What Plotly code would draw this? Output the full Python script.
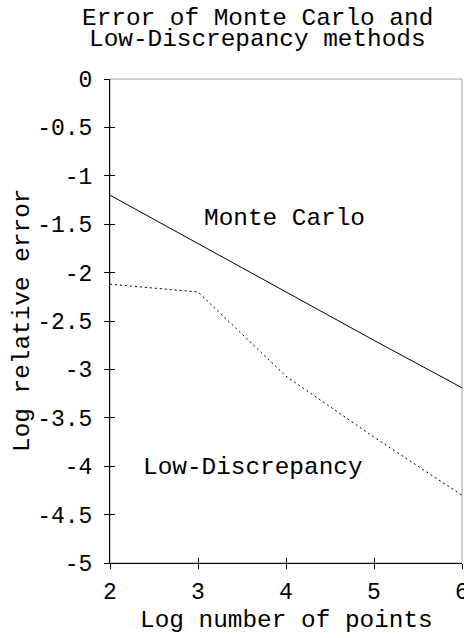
import plotly.graph_objects as go

# Data
log_points = [2, 3, 4, 5, 6]
monte_carlo = [-1.2, -1.7, -2.2, -2.7, -3.19]
low_discrepancy = [-2.12, -2.2, -3.07, -3.7, -4.3]

x_tickvals = [2, 3, 4, 5, 6]
x_ticktext = ["2", "3", "4", "5", "6"]
y_tickvals = [0, -0.5, -1, -1.5, -2, -2.5, -3, -3.5, -4, -4.5, -5]
y_ticktext = ["0", "-0.5", "-1", "-1.5", "-2", "-2.5", "-3", "-3.5", "-4", "-4.5", "-5"]

title_lines = ["Error of Monte Carlo and", "Low-Discrepancy methods"]
x_title = "Log number of points"
y_title = "Log relative error"

FONT = "Liberation Mono, Courier New, monospace"

fig = go.Figure()
fig.add_trace(go.Scatter(x=log_points, y=monte_carlo, mode="lines", name="Monte Carlo",
                         line=dict(color="black", width=1), showlegend=False))
fig.add_trace(go.Scatter(x=log_points, y=low_discrepancy, mode="lines", name="Low-Discrepancy",
                         line=dict(color="black", width=1, dash="2px,3px"), showlegend=False))
# empty trace to activate the overlay axes used for the inner half of the ticks
fig.add_trace(go.Scatter(x=[], y=[], xaxis="x2", yaxis="y2", showlegend=False, hoverinfo="skip"))

axis_common = dict(ticks="outside", ticklen=5, tickwidth=1, tickcolor="black",
                   showgrid=False, zeroline=False, showline=True, linecolor="black", linewidth=1,
                   tickfont=dict(family=FONT, size=23, color="black"),
                   ticklabeloverflow="allow", automargin=False)

fig.update_layout(
    width=464, height=638,
    margin=dict(l=110, r=2, t=79, b=75, autoexpand=False),
    paper_bgcolor="white", plot_bgcolor="white",
    showlegend=False,
    xaxis=dict(range=[2, 6], tickvals=x_tickvals, ticktext=x_ticktext, ticklabelstandoff=2,
               **axis_common),
    yaxis=dict(range=[-5, 0], tickvals=y_tickvals, ticktext=y_ticktext, ticklabelstandoff=7,
               **axis_common),
    xaxis2=dict(range=[2, 6], overlaying="x", anchor="y2", side="bottom", tickvals=x_tickvals,
                ticks="inside", ticklen=5, tickcolor="black", showticklabels=False,
                showline=False, showgrid=False, zeroline=False, automargin=False),
    yaxis2=dict(range=[-5, 0], overlaying="y", anchor="x2", side="left", tickvals=y_tickvals,
                ticks="inside", ticklen=5, tickcolor="black", showticklabels=False,
                showline=False, showgrid=False, zeroline=False, automargin=False),
    shapes=[dict(type="rect", xref="paper", yref="paper", x0=0, x1=1, y0=0, y1=1,
                 line=dict(color="#a0a0a0", width=1), layer="below")],
)

ann_font = dict(family=FONT, size=24.4, color="black")
annotations = [
    dict(text=title_lines[0], xref="paper", yref="paper", x=0.419, y=1.1255,
         xanchor="center", yanchor="middle", showarrow=False, font=ann_font),
    dict(text=title_lines[1], xref="paper", yref="paper", x=0.419, y=1.0825,
         xanchor="center", yanchor="middle", showarrow=False, font=ann_font),
    dict(text=x_title, xref="paper", yref="paper", x=0.5, y=-0.1178,
         xanchor="center", yanchor="middle", showarrow=False, font=ann_font),
    dict(text=y_title, xref="paper", yref="paper", x=-0.25, y=0.5, textangle=-90,
         xanchor="center", yanchor="middle", showarrow=False, font=ann_font),
    dict(text="Monte Carlo", x=3.98, y=-1.44, xref="x", yref="y",
         xanchor="center", yanchor="middle", showarrow=False, font=ann_font),
    dict(text="Low-Discrepancy", x=3.63, y=-4.01, xref="x", yref="y",
         xanchor="center", yanchor="middle", showarrow=False, font=ann_font),
]
fig.update_layout(annotations=annotations)

fig.write_html("out.html",
               config={"displayModeBar": False},
               post_script="document.body.style.margin='0';document.body.style.overflow='hidden';")
